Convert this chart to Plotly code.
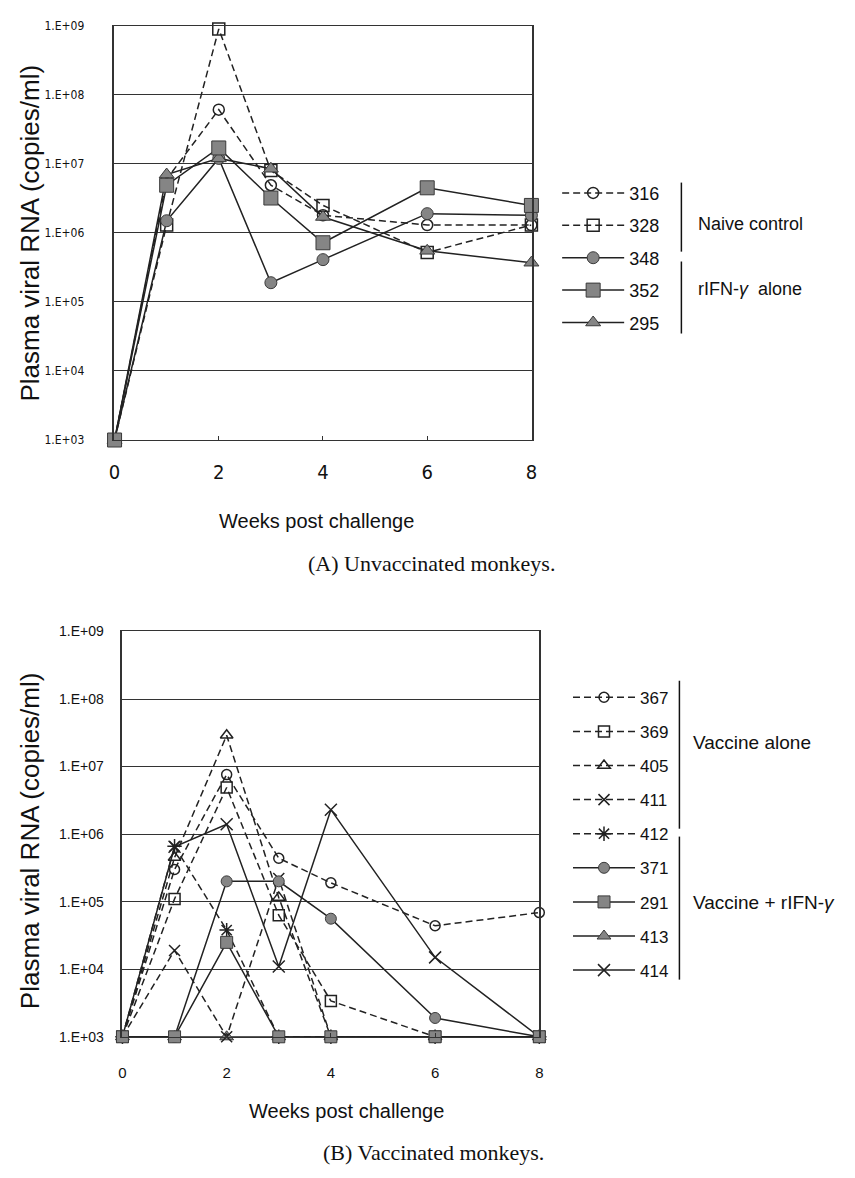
import plotly.graph_objects as go

W, H = 855, 1178

# ---------------- data ----------------
weeks = [0, 1, 2, 3, 4, 6, 8]

# Panel A: unvaccinated monkeys (copies/ml)
a_ids = ["316", "328", "348", "352", "295"]
a_316 = [1e3, 6.0e6, 6.1e7, 4.9e6, 1.8e6, 1.3e6, 1.3e6]
a_328 = [1e3, 1.3e6, 9.0e8, 8.0e6, 2.5e6, 5.2e5, 1.3e6]
a_348 = [1e3, 1.5e6, 1.2e7, 1.9e5, 4.1e5, 1.9e6, 1.8e6]
a_352 = [1e3, 4.9e6, 1.7e7, 3.2e6, 7.2e5, 4.5e6, 2.5e6]
a_295 = [1e3, 7.0e6, 1.2e7, 8.5e6, 1.7e6, 5.5e5, 3.7e5]
a_vals = {"316": a_316, "328": a_328, "348": a_348, "352": a_352, "295": a_295}
a_draw_order = ["316", "328", "348", "295", "352"]

# Panel B: vaccinated monkeys (copies/ml)
b_ids = ["367", "369", "405", "411", "412", "371", "291", "413", "414"]
b_367 = [1e3, 3.0e5, 7.6e6, 4.4e5, 1.9e5, 4.4e4, 6.9e4]
b_369 = [1e3, 1.1e5, 4.9e6, 6.3e4, 3.4e3, 1e3, 1e3]
b_405 = [1e3, 4.5e5, 2.9e7, 1.15e5, 1e3, 1e3, 1e3]
b_411 = [1e3, 1.9e4, 1e3, 2.2e5, 1e3, 1e3, 1e3]
b_412 = [1e3, 6.6e5, 3.8e4, 1e3, 1e3, 1e3, 1e3]
b_371 = [1e3, 1e3, 2.0e5, 2.0e5, 5.6e4, 1.9e3, 1e3]
b_291 = [1e3, 1e3, 2.5e4, 1e3, 1e3, 1e3, 1e3]
b_413 = [1e3, 1e3, 1e3, 1e3, 1e3, 1e3, 1e3]
b_414 = [1e3, 6.5e5, 1.4e6, 1.1e4, 2.3e6, 1.5e4, 1e3]
b_vals = {"367": b_367, "369": b_369, "405": b_405, "411": b_411, "412": b_412,
          "371": b_371, "291": b_291, "413": b_413, "414": b_414}
b_draw_order = ["413", "367", "369", "405", "411", "412", "371", "414", "291"]

y_tickvals = [1e3, 1e4, 1e5, 1e6, 1e7, 1e8, 1e9]
y_ticktext = ["1.E+03", "1.E+04", "1.E+05", "1.E+06", "1.E+07", "1.E+08", "1.E+09"]
x_tickvals = [0, 2, 4, 6, 8]

# ---------------- styles ----------------
LINE = "#222222"
GREY = "#858585"
EDGE = "#3a3a3a"
DASH = "7px,4px"

def st(symbol, dash, filled, size):
    return dict(symbol=symbol, dash=dash, filled=filled, size=size)

a_style = {
    "316": st("circle-open", DASH, False, 11),
    "328": st("square-open", DASH, False, 12),
    "348": st("circle", "solid", True, 12),
    "352": st("square", "solid", True, 14),
    "295": st("triangle-up", "solid", True, 13),
}
b_style = {
    "367": st("circle-open", DASH, False, 10),
    "369": st("square-open", DASH, False, 11),
    "405": st("triangle-up-open", DASH, False, 11),
    "411": st("x-thin-open", DASH, False, 11),
    "412": st("asterisk-open", DASH, False, 12),
    "371": st("circle", "solid", True, 11),
    "291": st("square", "solid", True, 12),
    "413": st("triangle-up", "solid", True, 12),
    "414": st("x-thin-open", "solid", False, 12),
}

SANS = "Liberation Sans, Arial, Helvetica, sans-serif"
NARROW = "Liberation Sans Narrow, DejaVu Sans Condensed, Arial Narrow, sans-serif"
SERIF = "Liberation Serif, Times New Roman, serif"

fig = go.Figure()

def add_series(ids, vals, order, styles, xa, ya, leg):
    for sid in order:
        s = styles[sid]
        if s["filled"]:
            marker = dict(symbol=s["symbol"], size=s["size"], color=GREY,
                          line=dict(color=EDGE, width=1))
        else:
            marker = dict(symbol=s["symbol"], size=s["size"], color=LINE,
                          line=dict(color=LINE, width=1.5))
        fig.add_trace(go.Scatter(
            x=weeks, y=vals[sid], mode="lines+markers", name=sid,
            xaxis=xa, yaxis=ya, legend=leg, legendgroup=sid,
            legendrank=100 + ids.index(sid),
            line=dict(color=LINE, width=1.5, dash=s["dash"]),
            marker=marker, cliponaxis=False, showlegend=True))

add_series(a_ids, a_vals, a_draw_order, a_style, "x", "y", "legend")
add_series(b_ids, b_vals, b_draw_order, b_style, "x2", "y2", "legend2")

def px_x(x):
    return x / W

def px_y(y):
    return 1 - y / H

def xaxis(dom, font, standoff):
    return dict(domain=dom, range=[-0.002, 8.002], tickvals=x_tickvals, ticks="inside",
                ticklen=4, tickcolor="#333", showline=True, mirror=True,
                linecolor="#333", linewidth=1, showgrid=False, zeroline=False,
                tickfont=font, ticklabelstandoff=standoff, fixedrange=True)

def yaxis(dom, font, standoff):
    return dict(domain=dom, type="log", range=[2.9995, 9.0005], tickvals=y_tickvals,
                ticktext=y_ticktext, ticks="", showline=True, mirror=True,
                linecolor="#333", linewidth=1.5, showgrid=True,
                gridcolor="#333", gridwidth=1, zeroline=False,
                tickfont=font, ticklabelstandoff=standoff, fixedrange=True)

fontAy = dict(family=NARROW, size=12, color="#111")
fontAx = dict(family=NARROW, size=20, color="#111")
fontBy = dict(family=SANS, size=14, color="#111")
fontBx = dict(family=SANS, size=15, color="#111")

fig.update_layout(
    width=W, height=H, margin=dict(l=0, r=0, t=0, b=0),
    paper_bgcolor="white", plot_bgcolor="white",
    xaxis=dict(xaxis([px_x(110), px_x(533)], fontAx, 14), anchor="y"),
    yaxis=dict(yaxis([px_y(438), px_y(18)], fontAy, 26), anchor="x"),
    xaxis2=dict(xaxis([px_x(118), px_x(541)], fontBx, 22), anchor="y2"),
    yaxis2=dict(yaxis([px_y(1043), px_y(632)], fontBy, 14), anchor="x2"),
    legend=dict(x=px_x(559), y=px_y(169), xanchor="left", yanchor="top",
                font=dict(family=SANS, size=18, color="#111"),
                itemwidth=62, tracegroupgap=6, bgcolor="rgba(0,0,0,0)",
                traceorder="grouped", itemclick=False, itemdoubleclick=False),
    legend2=dict(x=px_x(570), y=px_y(681), xanchor="left", yanchor="top",
                 font=dict(family=SANS, size=17, color="#111"),
                 itemwidth=62, tracegroupgap=9, bgcolor="rgba(0,0,0,0)",
                 traceorder="grouped", itemclick=False, itemdoubleclick=False),
)

ann = []
def text(x, y, s, size, family=SANS, angle=0, xanchor="center"):
    ann.append(dict(x=px_x(x), y=px_y(y), xref="paper", yref="paper", text=s,
                    showarrow=False, textangle=angle, xanchor=xanchor,
                    yanchor="middle", font=dict(family=family, size=size, color="#111")))

text(24, 228, "Plasma viral RNA (copies/ml)", 26, angle=-90)
text(24, 844, "Plasma viral RNA (copies/ml)", 26, angle=-90)
text(315, 520, "Weeks post challenge", 20)
text(345, 1118, "Weeks post challenge", 20)
text(432, 563, "(A) Unvaccinated monkeys.", 22, family=SERIF)
text(434, 1160, "(B) Vaccinated monkeys.", 22, family=SERIF)
text(700, 219, "Naive control", 18, xanchor="left")
text(700, 285, "rIFN-<i>γ</i>  alone", 18, xanchor="left")
text(695, 745, "Vaccine alone", 19, xanchor="left")
text(695, 907, "Vaccine + rIFN-<i>γ</i>", 19, xanchor="left")

shapes = []
def vline(x, y0, y1):
    shapes.append(dict(type="line", xref="paper", yref="paper",
                       x0=px_x(x), x1=px_x(x), y0=px_y(y0), y1=px_y(y1),
                       line=dict(color="#111", width=1.5)))

vline(685, 177, 247)
vline(685, 257, 330)
vline(683, 682, 832)
vline(683, 840, 985)

fig.update_layout(annotations=ann, shapes=shapes)

fig.write_html("out.html")
